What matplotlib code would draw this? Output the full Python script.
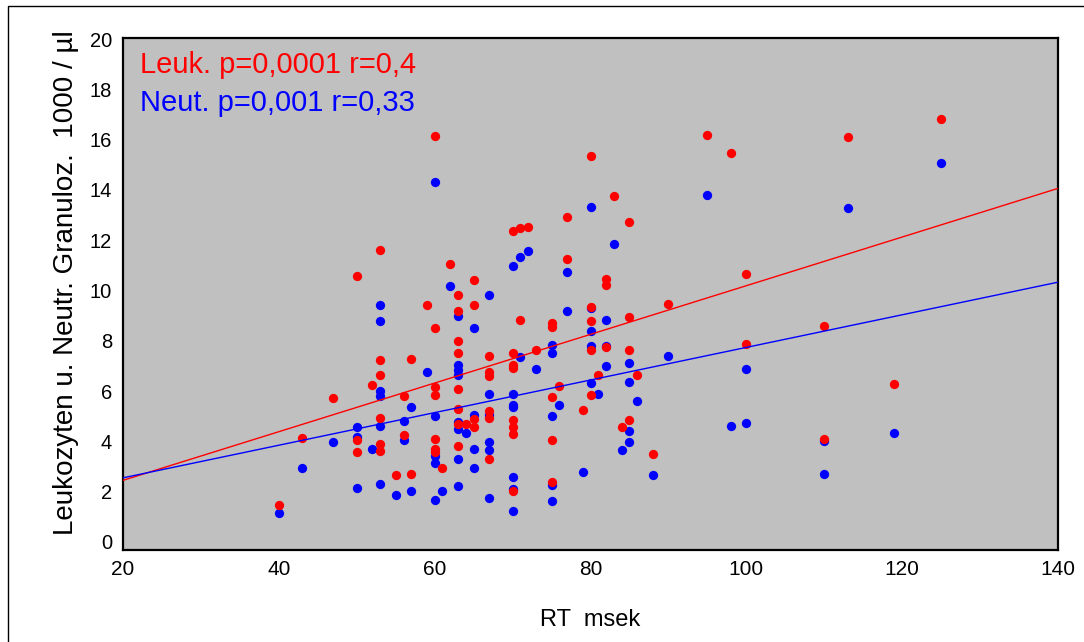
import matplotlib.pyplot as plt
from matplotlib import font_manager
from matplotlib.patches import Rectangle

# RT (msek) and counts (1000/µl)
leuk_rt = [40, 43, 47, 50, 50, 50, 52, 53, 53, 53, 53, 53, 53, 55, 56, 56, 57, 57, 59,
           60, 60, 60, 60, 60, 60, 60, 61, 62, 63, 63, 63, 63, 63, 63, 63, 63, 64,
           65, 65, 65, 65, 67, 67, 67, 67, 67, 67, 70, 70, 70, 70, 70, 70, 70, 70,
           71, 71, 72, 73, 75, 75, 75, 75, 75, 76, 77, 77, 79, 80, 80, 80, 80, 80,
           81, 82, 82, 82, 83, 84, 85, 85, 85, 85, 86, 88, 90, 95, 98, 100, 100,
           110, 110, 113, 119, 125]
leuk = [1.46, 4.12, 5.73, 10.56, 4.06, 3.59, 6.26, 11.61, 7.22, 6.65, 4.92, 3.88, 3.62,
        2.66, 5.79, 4.25, 7.28, 2.72, 9.41,
        16.14, 8.50, 6.15, 5.84, 4.11, 3.69, 3.59, 2.96, 11.04,
        9.82, 9.18, 7.98, 7.51, 6.07, 5.28, 4.69, 3.83, 4.69,
        10.41, 9.41, 4.88, 4.57, 7.40, 6.77, 6.60, 5.21, 4.92, 3.30,
        12.37, 7.51, 7.05, 6.93, 4.86, 4.56, 4.28, 2.03,
        12.47, 8.84, 12.52, 7.65, 8.70, 8.56, 5.78, 4.06, 2.39, 6.19, 12.93, 11.25,
        5.26, 15.36, 9.36, 8.78, 7.65, 5.84,
        6.65, 10.46, 10.23, 7.77, 13.74, 4.57, 12.71, 8.96, 7.65, 4.85, 6.65, 3.49,
        9.48, 16.18, 15.48, 10.64, 7.86, 8.60, 4.11, 16.12, 6.29, 16.81]

neut_rt = [40, 43, 47, 50, 50, 50, 52, 53, 53, 53, 53, 53, 53, 55, 56, 56, 57, 57, 59,
           60, 60, 60, 60, 60, 61, 62, 63, 63, 63, 63, 63, 63, 63, 63, 64,
           65, 65, 65, 65, 67, 67, 67, 67, 67, 67, 70, 70, 70, 70, 70, 70, 70,
           71, 71, 72, 73, 75, 75, 75, 75, 75, 76, 77, 77, 79, 80, 80, 80, 80, 80,
           81, 82, 82, 82, 83, 84, 85, 85, 85, 85, 86, 88, 90, 95, 98, 100, 100,
           110, 110, 113, 119, 125]
neut = [1.17, 2.95, 3.99, 4.56, 4.19, 2.15, 3.70, 9.41, 8.78, 6.02, 5.81, 4.61, 2.32,
        1.86, 4.81, 4.06, 5.38, 2.03, 6.76,
        14.31, 5.02, 3.42, 3.13, 1.68, 2.03, 10.17,
        9.00, 7.05, 6.84, 6.64, 4.77, 4.50, 3.30, 2.21, 4.35,
        8.50, 5.05, 3.70, 2.96, 9.82, 5.90, 5.05, 3.99, 3.65, 1.75,
        10.97, 5.90, 5.45, 5.38, 2.60, 2.12, 1.22,
        11.32, 7.34, 11.56, 6.88, 7.83, 7.51, 5.02, 2.27, 1.62, 5.44, 10.74, 9.18,
        2.78, 13.33, 9.30, 8.38, 7.81, 6.31,
        5.90, 8.84, 7.81, 7.00, 11.84, 3.65, 7.10, 6.36, 4.40, 3.99, 5.61, 2.66,
        7.40, 13.80, 4.62, 6.88, 4.74, 4.03, 2.72, 13.28, 4.33, 15.08]

# regression lines, values at RT = 20 and 140
line_rt = [20, 140]
leuk_line = [2.45, 14.06]
neut_line = [2.55, 10.33]

x_ticks = [20, 40, 60, 80, 100, 120, 140]
y_ticks = [0, 2, 4, 6, 8, 10, 12, 14, 16, 18, 20]

RED = "#ff0000"
BLUE = "#0000ff"

plt.rcParams["font.family"] = ["Liberation Sans", "DejaVu Sans"]

# the x axis texts in the original look condensed
installed = {f.name for f in font_manager.fontManager.ttflist}
narrow = "Liberation Sans Narrow" if "Liberation Sans Narrow" in installed else "Liberation Sans"

fig = plt.figure(figsize=(10.84, 6.42), dpi=100)
ax = fig.add_axes([0.1135, 0.1433, 0.8625, 0.7975])
ax.set_facecolor("#c0c0c0")

ax.plot(neut_rt, neut, "o", color=BLUE, markersize=6.7, markeredgewidth=0, zorder=3)
ax.plot(leuk_rt, leuk, "o", color=RED, markersize=6.7, markeredgewidth=0, zorder=4)
ax.plot(line_rt, leuk_line, color=RED, linewidth=1.0, zorder=5)
ax.plot(line_rt, neut_line, color=BLUE, linewidth=1.0, zorder=5)

ax.set_xlim(20, 140)
ax.set_ylim(-0.32, 20.04)
ax.set_xticks(x_ticks)
ax.set_yticks(y_ticks)
ax.tick_params(axis="both", length=0)
ax.tick_params(axis="y", labelsize=14.5, pad=8)
ax.tick_params(axis="x", labelsize=17 if narrow != "Liberation Sans" else 15, pad=7)
for lbl in ax.get_xticklabels():
    lbl.set_family(narrow)
for spine in ax.spines.values():
    spine.set_linewidth(1.6)

ax.set_xlabel("RT  msek", fontsize=19 if narrow != "Liberation Sans" else 17, family=narrow)
ax.xaxis.set_label_coords(0.5, -0.115)
ax.set_ylabel("Leukozyten u. Neutr. Granuloz.  1000 / µl", fontsize=20)
ax.yaxis.set_label_coords(-0.047, 0.523)

ax.text(0.018, 0.948, "Leuk. p=0,0001 r=0,4", color=RED, fontsize=21,
        transform=ax.transAxes, va="center", ha="left")
ax.text(0.018, 0.874, "Neut. p=0,001 r=0,33", color=BLUE, fontsize=21,
        transform=ax.transAxes, va="center", ha="left")

# outer frame, open on the right and bottom like the original export
fig.patches.append(Rectangle((8 / 1084, -0.05), 1.1, 1.05 - 6 / 642, fill=False,
                             edgecolor="black", linewidth=1.0,
                             transform=fig.transFigure, figure=fig))

fig.savefig("out.png", dpi=100)
